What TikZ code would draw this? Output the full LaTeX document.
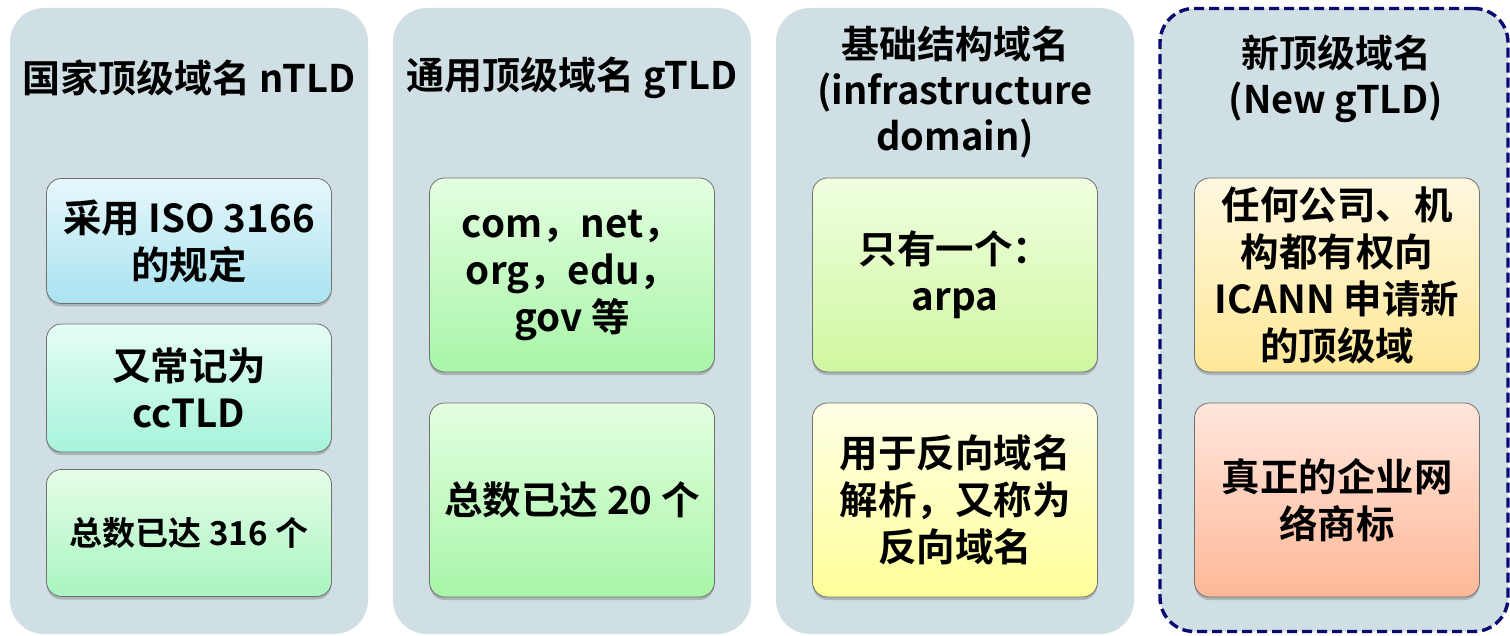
\documentclass[tikz,border=0pt]{standalone}
\usepackage{fontspec}
\setmainfont{Noto Sans CJK SC}[BoldFont={Noto Sans CJK SC Bold}]
\usetikzlibrary{shadows}
\definecolor{panelfill}{HTML}{D0DFE3}
\definecolor{navyline}{HTML}{0A0A70}
\definecolor{boxline}{HTML}{707070}
\tikzset{
  panel/.style={fill=panelfill, draw=none, rounded corners=34pt, minimum width=358pt, minimum height=626pt, inner sep=0pt},
  newpanel/.style={panel, draw=navyline, line width=3.4pt, dash pattern=on 10pt off 5pt},
  title/.style={align=center, font=\bfseries\fontsize{38}{46}\selectfont, inner sep=0pt},
  itembox/.style={draw=boxline, line width=0.8pt, rounded corners=15pt, minimum width=285pt, inner sep=0pt,
    align=center, font=\bfseries\fontsize{38.5}{47}\selectfont,
    drop shadow={shadow xshift=0pt, shadow yshift=-3pt, opacity=0.35, fill=black!60}},
  small/.style={font=\bfseries\fontsize{33}{40}\selectfont}
}
\begin{document}
\begin{tikzpicture}[x=1pt,y=-1pt]
\useasboundingbox (0,0) rectangle (1510,636);
% panels
\node[panel] (p1) at (189,321) {};
\node[panel] (p2) at (572,321) {};
\node[panel] (p3) at (955,321) {};
\node[newpanel, minimum width=348pt, minimum height=623pt] (p4) at (1334,320) {};
% titles
\node[title] (t1) at (189,78) {国家顶级域名 nTLD};
\node[title] (t2) at (572,78) {通用顶级域名 gTLD};
\node[title] (t3) at (955,92) {基础结构域名\\(infrastructure\\domain)};
\node[title] (t4) at (1336,79) {新顶级域名\\(New gTLD)};
% column 1
\node[itembox, minimum height=125pt, top color={rgb,255:red,230;green,247;blue,251}, bottom color={rgb,255:red,169;green,227;blue,240}] (b11) at (189,241) {采用 ISO 3166\\的规定};
\node[itembox, minimum height=128pt, top color={rgb,255:red,230;green,253;blue,246}, bottom color={rgb,255:red,166;green,243;blue,220}] (b12) at (189,388) {又常记为\\ccTLD};
\node[itembox, small, minimum height=127pt, top color={rgb,255:red,230;green,253;blue,232}, bottom color={rgb,255:red,168;green,245;blue,192}] (b13) at (189,533) {总数已达 316 个};
% column 2
\node[itembox, minimum height=194pt, top color={rgb,255:red,227;green,255;blue,224}, bottom color={rgb,255:red,168;green,245;blue,168}] (b21) at (572,275) {com，net，\\org，edu，\\gov 等};
\node[itembox, minimum height=194pt, top color={rgb,255:red,227;green,255;blue,224}, bottom color={rgb,255:red,168;green,245;blue,168}] (b22) at (572,500) {总数已达 20 个};
% column 3
\node[itembox, minimum height=194pt, top color={rgb,255:red,240;green,255;blue,224}, bottom color={rgb,255:red,207;green,247;blue,160}] (b31) at (955,275) {只有一个：\\arpa};
\node[itembox, minimum height=194pt, top color={rgb,255:red,255;green,255;blue,230}, bottom color={rgb,255:red,255;green,255;blue,153}] (b32) at (955,500) {用于反向域名\\解析，又称为\\反向域名};
% column 4
\node[itembox, minimum height=194pt, top color={rgb,255:red,255;green,248;blue,224}, bottom color={rgb,255:red,255;green,232;blue,152}] (b41) at (1337,275) {任何公司、机\\构都有权向\\ICANN 申请新\\的顶级域};
\node[itembox, minimum height=194pt, top color={rgb,255:red,255;green,230;blue,220}, bottom color={rgb,255:red,255;green,184;blue,152}] (b42) at (1337,500) {真正的企业网\\络商标};
\end{tikzpicture}
\end{document}
